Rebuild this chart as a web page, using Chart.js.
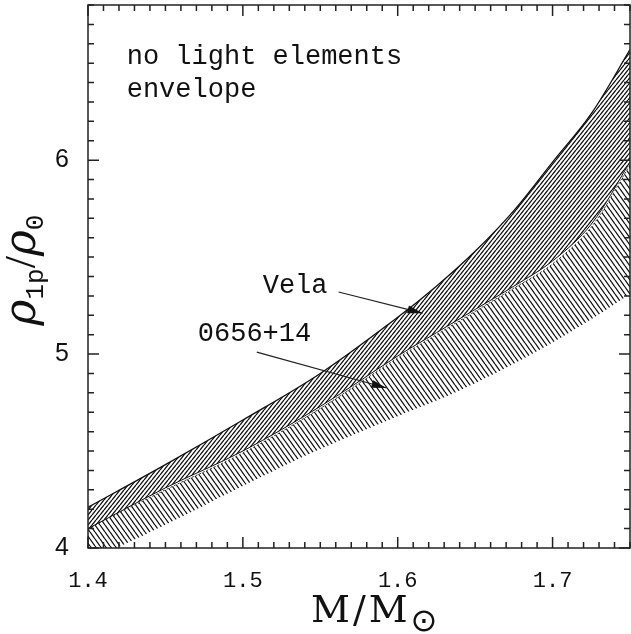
<!DOCTYPE html>
<html>
<head>
<meta charset="utf-8">
<script src="https://cdn.jsdelivr.net/npm/chart.js@4/dist/chart.umd.min.js"></script>
<style>
  html, body { margin: 0; padding: 0; background: #fff; }
  canvas { display: block; }
</style>
</head>
<body>
<canvas id="c" width="631" height="634"></canvas>
<script>
// values
const mass = [1.40, 1.45, 1.50, 1.55, 1.60, 1.625, 1.65, 1.675, 1.70, 1.725, 1.75];
const velaUpper = [4.21, 4.43, 4.66, 4.90, 5.19, 5.35, 5.53, 5.74, 5.99, 6.24, 6.57];
const velaLower = [4.10, 4.31, 4.50, 4.73, 4.99, 5.11, 5.23, 5.35, 5.48, 5.67, 5.99];
const pulsarUpper = [4.10, 4.30, 4.49, 4.72, 4.98, 5.10, 5.22, 5.34, 5.465, 5.655, 5.975];
const pulsarLower = [3.93, 4.12, 4.32, 4.51, 4.68, 4.76, 4.85, 4.95, 5.06, 5.18, 5.31];
const xTicks = [1.4, 1.5, 1.6, 1.7];
const yTicks = [4, 5, 6];

// annotations in data units
const notes = [
  { text: 'no light elements', x: 1.425, y: 6.495 },
  { text: 'envelope', x: 1.425, y: 6.325 },
  { text: 'Vela', x: 1.5128, y: 5.314 },
  { text: '0656+14', x: 1.4709, y: 5.067 }
];
const arrows = [
  { from: [1.5618, 5.320], to: [1.616, 5.211] },
  { from: [1.509, 5.010], to: [1.5928, 4.825] }
];

const canvas = document.getElementById('c');
const ctx = canvas.getContext('2d');

function hatch(w, h, dir, lw) {
  const t = document.createElement('canvas');
  t.width = w; t.height = h;
  const g = t.getContext('2d');
  g.strokeStyle = '#111';
  g.lineWidth = lw;
  g.beginPath();
  for (let k = -1; k <= 1; k++) {
    if (dir === '/') {
      g.moveTo(k * w, h); g.lineTo((k + 1) * w, 0);
    } else {
      g.moveTo(k * w, 0); g.lineTo((k + 1) * w, h);
    }
  }
  g.stroke();
  return ctx.createPattern(t, 'repeat');
}

const pts = ys => mass.map((m, i) => ({ x: m, y: ys[i] }));

const decor = {
  id: 'decor',
  afterDraw(chart) {
    const { ctx: c, chartArea: a, scales: { x, y } } = chart;
    c.save();
    // frame + inward ticks
    c.strokeStyle = '#222';
    c.lineWidth = 1.5;
    c.strokeRect(a.left, a.top, a.right - a.left, a.bottom - a.top);
    c.beginPath();
    for (let i = 0; i <= 35; i++) {
      const px = x.getPixelForValue(1.4 + i * 0.01);
      const len = i % 10 === 0 ? 11 : 6;
      c.moveTo(px, a.bottom); c.lineTo(px, a.bottom - len);
      c.moveTo(px, a.top); c.lineTo(px, a.top + len);
    }
    for (let i = 0; i <= 28; i++) {
      const py = y.getPixelForValue(4 + i * 0.1);
      const len = i % 10 === 0 ? 11 : 6;
      c.moveTo(a.left, py); c.lineTo(a.left + len, py);
      c.moveTo(a.right, py); c.lineTo(a.right - len, py);
    }
    c.stroke();

    // notes
    c.fillStyle = '#111';
    c.font = '27px "Liberation Mono"';
    c.textBaseline = 'alphabetic';
    c.textAlign = 'left';
    notes.forEach(n => c.fillText(n.text, x.getPixelForValue(n.x), y.getPixelForValue(n.y)));

    // arrows
    c.lineWidth = 1.2;
    arrows.forEach(ar => {
      const x0 = x.getPixelForValue(ar.from[0]), y0 = y.getPixelForValue(ar.from[1]);
      const x1 = x.getPixelForValue(ar.to[0]), y1 = y.getPixelForValue(ar.to[1]);
      const ang = Math.atan2(y1 - y0, x1 - x0);
      c.beginPath(); c.moveTo(x0, y0); c.lineTo(x1, y1); c.stroke();
      c.beginPath();
      c.moveTo(x1, y1);
      c.lineTo(x1 - 15 * Math.cos(ang) + 4 * Math.sin(ang), y1 - 15 * Math.sin(ang) - 4 * Math.cos(ang));
      c.lineTo(x1 - 15 * Math.cos(ang) - 4 * Math.sin(ang), y1 - 15 * Math.sin(ang) + 4 * Math.cos(ang));
      c.closePath(); c.fill();
    });

    // x title  M/M_sun
    c.font = '38px "DejaVu Serif"';
    c.letterSpacing = '3px';
    let tx = 311;
    const tb = 622;
    c.fillText('M/M', tx, tb);
    tx += c.measureText('M/M').width;
    c.letterSpacing = '0px';
    c.font = '32px "DejaVu Sans"';
    c.fillText('\u2299', tx, tb + 9);

    // y title  rho_1p / rho_0 (rotated)
    c.translate(35, 270);
    c.rotate(-Math.PI / 2);
    const parts = [
      { t: '\u03C1', f: 'italic 44px "DejaVu Serif"', dy: 0 },
      { t: '1p', f: '26px "Liberation Mono"', dy: 8 },
      { t: '/', f: '44px "Liberation Serif"', dy: 0 },
      { t: '\u03C1', f: 'italic 44px "DejaVu Serif"', dy: 0 },
      { t: '0', f: '26px "Liberation Mono"', dy: 8 }
    ];
    let total = 0;
    parts.forEach(p => { c.font = p.f; p.w = c.measureText(p.t).width; total += p.w; });
    let cx = -total / 2;
    parts.forEach(p => { c.font = p.f; c.fillText(p.t, cx, p.dy); cx += p.w; });
    c.restore();
  }
};

new Chart(ctx, {
  type: 'line',
  data: {
    datasets: [
      { label: 'Vela', data: pts(velaUpper), fill: '+1', backgroundColor: hatch(4, 5, '/', 1.3),
        borderColor: '#111', borderWidth: 1.3 },
      { label: 'Vela lower', data: pts(velaLower), fill: false, borderColor: '#111', borderWidth: 1 },
      { label: '0656+14', data: pts(pulsarUpper), fill: '+1', backgroundColor: hatch(5, 7, '\\', 1.3),
        borderColor: '#333', borderWidth: 1, borderDash: [2, 2] },
      { label: '0656+14 lower', data: pts(pulsarLower), fill: false, borderColor: 'rgba(0,0,0,0)', borderWidth: 0 }
    ]
  },
  options: {
    responsive: false,
    animation: false,
    layout: { padding: { top: 5, right: 1, left: 0, bottom: 0 } },
    elements: {
      point: { radius: 0 },
      line: { tension: 0.35 }
    },
    plugins: { legend: { display: false }, tooltip: { enabled: false } },
    scales: {
      x: {
        type: 'linear', min: 1.4, max: 1.75,
        grid: { display: false }, border: { display: false },
        afterBuildTicks: s => { s.ticks = xTicks.map(v => ({ value: v })); },
        afterFit: s => { s.height = 86; s.paddingLeft = 0; s.paddingRight = 0; },
        ticks: {
          padding: 12, color: '#111',
          font: { family: '"Liberation Mono"', size: 22 },
          callback: v => v.toFixed(1)
        }
      },
      y: {
        type: 'linear', min: 4, max: 6.8,
        grid: { display: false }, border: { display: false },
        afterBuildTicks: s => { s.ticks = yTicks.map(v => ({ value: v })); },
        afterFit: s => { s.width = 88; s.paddingTop = 0; s.paddingBottom = 0; },
        ticks: {
          padding: 11, color: '#111',
          font: { family: '"Liberation Sans"', size: 25 },
          callback: v => String(v)
        }
      }
    }
  },
  plugins: [decor]
});
</script>
</body>
</html>
